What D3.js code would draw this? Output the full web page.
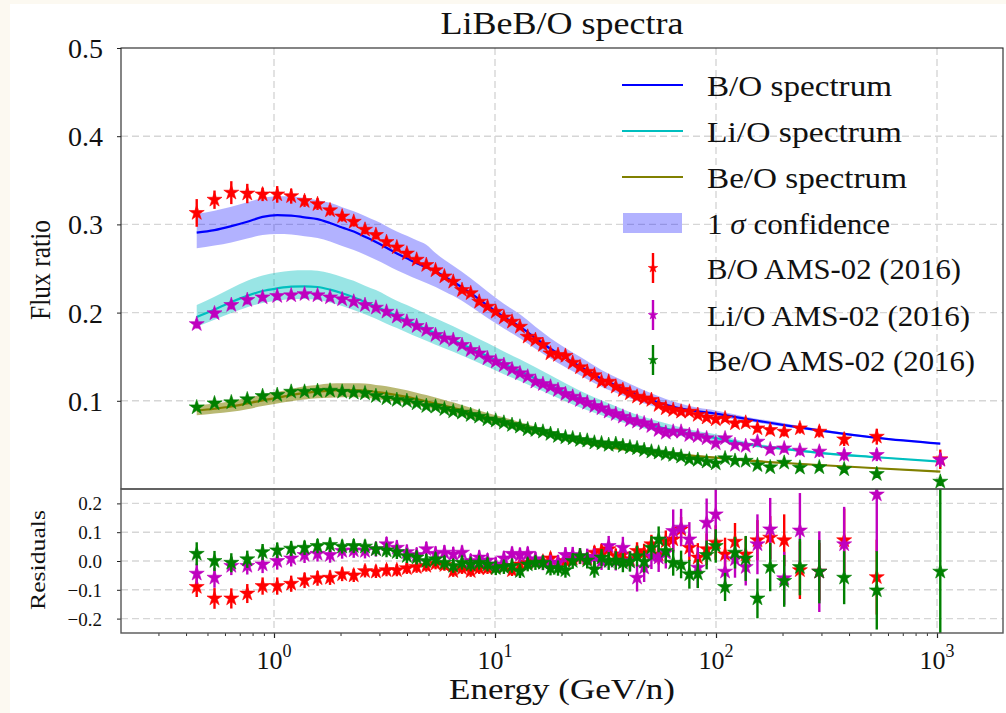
<!DOCTYPE html>
<html><head><meta charset="utf-8">
<script src="https://cdn.jsdelivr.net/npm/d3@7"></script>
<style>
html,body{margin:0;padding:0;background:#fcf9f1;}
svg{display:block;}
text{font-family:"Liberation Serif","Times New Roman",serif;fill:#111;}
</style></head><body>
<svg id="chart" width="1006" height="713"></svg>
<script>
// ---------------- data ----------------
const energy = [0.447,0.538,0.641,0.757,0.888,1.034,1.196,1.375,1.574,1.793,
 2.034,2.295,2.581,2.892,3.230,3.597,3.993,4.421,4.889,5.383,
 5.903,6.472,7.092,7.763,8.482,9.25,10.08,10.97,11.94,12.97,
 14.06,15.24,16.48,17.83,19.28,20.83,22.47,24.25,26.14,28.17,
 30.34,32.69,35.21,37.90,40.80,43.93,47.30,51.02,55.02,59.28,
 64.02,69.51,75.76,82.74,90.72,99.71,109.9,121.9,136.3,154.0,
 175.9,203.5,239.7,293.4,380.1,533.9,1034.7];

const boData = [0.313,0.328,0.336,0.335,0.334,0.334,0.332,0.3265,0.323,0.316,
 0.309,0.303,0.294,0.288,0.280,0.274,0.267,0.260,0.254,0.248,
 0.241,0.235,0.2256,0.222,0.2124,0.2067,0.201,0.1946,0.1897,0.184,
 0.1727,0.169,0.1633,0.1538,0.152,0.151,0.1432,0.138,0.133,0.129,
 0.1217,0.1217,0.116,0.1122,0.1085,0.1047,0.1028,0.101,0.0952,0.0915,
 0.0896,0.0877,0.0877,0.084,0.081,0.079,0.0801,0.0745,0.0752,0.0688,
 0.0669,0.065,0.0688,0.065,0.0563,0.0593,0.0337];
const liData = [0.187,0.1992,0.2086,0.2143,0.2173,0.2188,0.2196,0.221,0.2196,0.2173,
 0.2151,0.2124,0.2086,0.2056,0.201,0.1954,0.1897,0.1848,0.1803,0.1746,
 0.1708,0.169,0.1633,0.1576,0.1538,0.1482,0.1444,0.1406,0.1357,0.1312,
 0.1274,0.1217,0.119,0.116,0.1122,0.1077,0.1047,0.1009,0.0978,0.0941,
 0.0915,0.0877,0.085,0.082,0.0782,0.0763,0.0745,0.0714,0.0669,0.0638,
 0.065,0.065,0.0612,0.06,0.0575,0.0518,0.0575,0.05,0.0488,0.0537,
 0.045,0.0461,0.0435,0.0424,0.0386,0.0386,0.033];
const beData = [0.0926,0.0971,0.0983,0.1017,0.1054,0.1066,0.1103,0.1103,0.1111,0.1115,
 0.1103,0.1092,0.1085,0.1054,0.1028,0.101,0.0998,0.0971,0.0941,0.0933,
 0.0905,0.088,0.0866,0.0839,0.082,0.079,0.0775,0.0752,0.0726,0.0707,
 0.0677,0.0669,0.065,0.0624,0.0601,0.0586,0.0575,0.0556,0.0548,0.0526,
 0.0518,0.05,0.051,0.0488,0.0473,0.0462,0.0442,0.0424,0.0412,0.0397,
 0.0386,0.0367,0.0337,0.033,0.031,0.029,0.0348,0.032,0.032,0.027,
 0.0246,0.0298,0.0242,0.0246,0.0224,0.017,0.0083];

const boErr = [0.0157,0.0104,0.013,0.011,0.0076,0.0094,0.0085,0.0066,0.0066,0.006,
 0.0058,0.0055,0.0052,0.005,0.0048,0.0046,0.0045,0.0043,0.0042,0.004,
 0.004,0.0038,0.0037,0.0036,0.0035,0.0034,0.0033,0.0032,0.0031,0.003,
 0.003,0.003,0.003,0.003,0.003,0.003,0.003,0.003,0.003,0.003,
 0.003,0.003,0.003,0.003,0.003,0.003,0.003,0.003,0.003,0.003,
 0.003,0.003,0.0032,0.0034,0.0036,0.0038,0.004,0.0042,0.0045,0.0048,
 0.005,0.0055,0.006,0.0065,0.0075,0.009,0.011];
const liErr = [0.005,0.005,0.005,0.005,0.0045,0.0045,0.0045,0.0045,0.0045,0.0045,
 0.004,0.004,0.004,0.004,0.004,0.004,0.004,0.004,0.004,0.004,
 0.0035,0.0035,0.0035,0.0035,0.0035,0.0035,0.003,0.003,0.003,0.003,
 0.003,0.003,0.003,0.003,0.003,0.003,0.003,0.003,0.003,0.003,
 0.003,0.003,0.003,0.003,0.003,0.003,0.003,0.003,0.003,0.003,
 0.003,0.003,0.003,0.003,0.0032,0.0034,0.0036,0.0038,0.004,0.0042,
 0.0045,0.005,0.0055,0.006,0.0065,0.007,0.008];
const beErr = [0.003,0.003,0.003,0.003,0.003,0.003,0.003,0.003,0.003,0.003,
 0.0025,0.0025,0.0025,0.0025,0.0025,0.0025,0.0025,0.0025,0.0025,0.0025,
 0.002,0.002,0.002,0.002,0.002,0.002,0.002,0.002,0.002,0.002,
 0.002,0.002,0.002,0.002,0.002,0.002,0.002,0.002,0.002,0.002,
 0.002,0.002,0.002,0.002,0.002,0.002,0.002,0.002,0.002,0.002,
 0.002,0.002,0.002,0.002,0.002,0.0022,0.0024,0.0026,0.0028,0.003,
 0.0032,0.0034,0.0036,0.0038,0.004,0.0045,0.005];

// model curves (evaluated at modelEnergy)
const modelEnergy = [0.447,0.538,0.641,0.757,0.888,1.034,1.196,1.375,1.574,1.793,
 2.034,2.295,2.581,2.892,3.230,3.597,3.993,4.421,4.889,5.383,
 5.903,6.472,7.763,9.25,10.97,12.97,15.24,17.83,20.83,24.25,
 30.34,37.9,47.3,59.28,75.76,99.71,136.3,203.5,293.4,533.9,1034.7];
const boModel = [0.2906,0.2935,0.298,0.303,0.3085,0.3105,0.310,0.308,0.306,0.3015,
 0.2965,0.292,0.286,0.280,0.2735,0.267,0.2615,0.256,0.2515,0.247,
 0.241,0.235,0.222,0.208,0.195,0.184,0.171,0.159,0.149,0.139,
 0.125,0.114,0.104,0.0955,0.0895,0.0855,0.0795,0.0725,0.0665,0.058,0.0515];
const boLow = [0.273,0.276,0.2795,0.284,0.288,0.289,0.2885,0.2865,0.2845,0.2805,
 0.2755,0.271,0.2655,0.260,0.254,0.248,0.243,0.238,0.2335,0.229,
 0.224,0.219,0.207,0.194,0.182,0.171,0.159,0.148,0.138,0.129,
 0.116,0.106,0.097,0.090,0.085,0.082,0.077,0.0705,0.065,0.057,0.0505];
const boHigh = [0.312,0.3155,0.320,0.325,0.330,0.332,0.3315,0.330,0.3275,0.3245,
 0.3195,0.315,0.3095,0.304,0.298,0.292,0.287,0.282,0.277,0.2675,
 0.260,0.253,0.239,0.224,0.210,0.198,0.184,0.171,0.160,0.150,
 0.135,0.123,0.112,0.102,0.094,0.089,0.082,0.0745,0.068,0.059,0.0525];
const liModel = [0.195,0.2035,0.212,0.219,0.2245,0.2275,0.2295,0.2298,0.229,0.226,
 0.222,0.2175,0.212,0.207,0.2015,0.196,0.191,0.186,0.181,0.1765,
 0.1725,0.1685,0.1595,0.1505,0.1415,0.1335,0.125,0.117,0.109,0.1015,
 0.0915,0.0825,0.0745,0.0685,0.0625,0.0578,0.051,0.0455,0.041,0.036,0.031];
const liLow = [0.184,0.192,0.1995,0.206,0.211,0.2135,0.2155,0.2155,0.2145,0.2115,
 0.2075,0.203,0.198,0.193,0.1875,0.1825,0.1775,0.1725,0.168,0.1635,
 0.1595,0.1555,0.147,0.1385,0.13,0.1225,0.1145,0.107,0.0995,0.0925,
 0.0835,0.0755,0.0685,0.063,0.0585,0.0545,0.049,0.0438,0.0398,0.0352,0.0305];
const liHigh = [0.2086,0.218,0.2275,0.236,0.242,0.2455,0.2475,0.248,0.2475,0.2445,
 0.2405,0.236,0.2305,0.2255,0.2195,0.2135,0.2085,0.2035,0.1985,0.1935,
 0.189,0.1845,0.175,0.1655,0.156,0.147,0.138,0.129,0.12,0.1115,
 0.1005,0.0905,0.0815,0.0745,0.0675,0.062,0.0535,0.047,0.0422,0.0368,0.0315];
const beModel = [0.0888,0.091,0.0935,0.097,0.1005,0.1035,0.1065,0.109,0.1105,0.1115,
 0.112,0.112,0.1115,0.110,0.1085,0.1065,0.1045,0.102,0.0995,0.097,
 0.0945,0.092,0.0865,0.081,0.0765,0.0715,0.067,0.0625,0.0585,0.0545,
 0.0495,0.0455,0.0425,0.040,0.038,0.0355,0.0325,0.0295,0.0272,0.0235,0.0196];
const beLow = [0.0835,0.0855,0.0875,0.0905,0.094,0.097,0.0995,0.1015,0.103,0.1035,
 0.104,0.104,0.1035,0.102,0.1005,0.0988,0.097,0.0948,0.0925,0.0903,
 0.088,0.0857,0.0808,0.0758,0.0717,0.0672,0.063,0.059,0.0553,0.0516,
 0.0471,0.0434,0.0407,0.0384,0.0366,0.0343,0.0316,0.0288,0.0266,0.023,0.0192];
const beHigh = [0.0945,0.0968,0.0995,0.1035,0.107,0.11,0.1135,0.1165,0.118,0.1195,
 0.12,0.12,0.1195,0.118,0.1165,0.1142,0.112,0.1092,0.1065,0.1037,
 0.101,0.0983,0.0922,0.0862,0.0813,0.0758,0.071,0.066,0.0617,0.0574,
 0.0519,0.0476,0.0443,0.0416,0.0394,0.0367,0.0334,0.0302,0.0278,0.024,0.02];

// residuals (null = outside the plotted range)
const boRes = [-0.090,-0.130,-0.130,-0.113,-0.087,-0.087,-0.079,-0.067,-0.060,-0.058,
 -0.046,-0.050,-0.035,-0.037,-0.032,-0.032,-0.025,-0.021,-0.017,-0.009,
 -0.014,-0.035,-0.025,-0.035,-0.025,-0.025,-0.021,-0.017,-0.032,-0.012,
 -0.006,0.0,-0.002,0.009,-0.006,0.0,0.009,0.014,0.009,0.029,
 0.035,0.041,0.017,0.023,0.006,0.035,0.029,0.058,0.023,0.069,
 0.075,0.110,0.046,0.012,0.041,0.064,0.023,0.067,0.023,0.072,
 0.081,0.072,-0.032,-0.037,0.072,-0.056,null];
const liRes = [-0.044,-0.058,-0.017,-0.017,-0.012,0.0,0.009,0.021,0.025,0.021,
 0.035,0.037,0.035,0.041,0.058,0.046,0.031,0.021,0.041,0.025,
 0.029,0.023,0.029,0.0,0.012,0.002,-0.012,0.009,0.025,0.021,
 0.025,0.006,-0.006,-0.006,-0.006,0.021,0.021,0.017,0.014,0.014,
 0.0,0.052,0.0,0.046,0.0,-0.058,-0.023,0.017,0.012,0.029,
 0.104,0.116,0.075,-0.023,0.133,0.162,-0.037,0.006,-0.021,0.058,
 0.110,-0.060,0.106,-0.037,0.058,0.231,null];
const beRes = [0.025,0.0,-0.006,0.006,0.031,0.037,0.043,0.046,0.052,0.056,
 0.050,0.052,0.050,0.041,0.037,0.031,0.017,0.012,0.0,0.006,
 -0.006,-0.017,-0.006,-0.012,-0.006,-0.012,-0.025,-0.021,-0.017,-0.035,
 -0.012,-0.006,-0.006,-0.025,-0.025,-0.032,0.0,0.017,0.002,-0.029,
 0.012,0.0,0.002,-0.006,-0.002,0.017,-0.002,0.046,0.075,0.035,
 -0.006,-0.012,-0.046,-0.044,0.021,0.052,-0.090,0.029,0.009,-0.130,
 -0.021,-0.069,-0.021,-0.037,-0.058,-0.102,-0.037];
const boResErr = [0.035,0.036,0.035,0.033,0.03,0.03,0.028,0.027,0.026,0.025,
 0.024,0.023,0.022,0.022,0.021,0.021,0.02,0.02,0.02,0.02,
 0.02,0.02,0.02,0.02,0.02,0.02,0.02,0.02,0.02,0.02,
 0.02,0.02,0.021,0.021,0.022,0.022,0.022,0.023,0.023,0.024,
 0.025,0.025,0.026,0.027,0.028,0.03,0.031,0.033,0.035,0.037,
 0.04,0.043,0.046,0.05,0.055,0.06,0.058,0.065,0.062,0.07,
 0.075,0.09,0.1,0.1,0.11,0.13,0.2];
const liResErr = [0.035,0.035,0.032,0.03,0.03,0.03,0.028,0.028,0.027,0.027,
 0.027,0.026,0.026,0.026,0.026,0.026,0.026,0.026,0.026,0.026,
 0.026,0.026,0.025,0.025,0.025,0.025,0.025,0.025,0.025,0.025,
 0.025,0.026,0.026,0.026,0.027,0.027,0.028,0.028,0.029,0.03,
 0.031,0.035,0.033,0.038,0.035,0.048,0.05,0.045,0.05,0.055,
 0.075,0.065,0.06,0.07,0.084,0.087,0.06,0.064,0.064,0.104,
 0.109,0.092,0.13,0.14,0.13,0.2,0.3];
const beResErr = [0.04,0.035,0.033,0.03,0.028,0.027,0.026,0.025,0.025,0.025,
 0.024,0.024,0.024,0.024,0.024,0.024,0.024,0.024,0.024,0.024,
 0.024,0.024,0.024,0.024,0.024,0.024,0.024,0.024,0.024,0.024,
 0.024,0.025,0.025,0.025,0.026,0.026,0.027,0.027,0.028,0.029,
 0.03,0.031,0.032,0.033,0.035,0.036,0.038,0.04,0.045,0.043,
 0.045,0.048,0.05,0.05,0.05,0.058,0.049,0.055,0.078,0.069,
 0.084,0.09,0.098,0.11,0.092,0.136,0.3];

const xMajorTicks = [1, 10, 100, 1000];
const xMajorExponents = ["0", "1", "2", "3"];
const yTopTicks = [0.1, 0.2, 0.3, 0.4, 0.5];
const yResTicks = [-0.2, -0.1, 0.0, 0.1, 0.2];
const lineLabels = ["B/O spectrum", "Li/O spectrum", "Be/O spectrum"];
const bandLabel = "confidence";
const dataLabels = ["B/O AMS-02 (2016)", "Li/O AMS-02 (2016)", "Be/O AMS-02 (2016)"];
const titleText = "LiBeB/O spectra";

// ---------------- layout ----------------
const X0 = 121, X1 = 1003, YT0 = 48, YT1 = 489, YR1 = 633;
const svg = d3.select("#chart");
svg.append("rect").attr("x", 10).attr("y", 4).attr("width", 996).attr("height", 709).attr("fill", "#fff");

const x = d3.scaleLog().domain([0.2031, 1989]).range([X0, X1]);
const yT = d3.scaleLinear().domain([0, 0.5]).range([YT1, YT0]);
const yR = d3.scaleLinear().domain([-0.25, 0.25]).range([YR1, YT1]);

const defs = svg.append("defs");
defs.append("clipPath").attr("id", "clipTop").append("rect")
  .attr("x", X0).attr("y", YT0).attr("width", X1 - X0).attr("height", YT1 - YT0);
defs.append("clipPath").attr("id", "clipRes").append("rect")
  .attr("x", X0).attr("y", YT1).attr("width", X1 - X0).attr("height", YR1 - YT1);

const gridColor = "#d6d6d6";
function grid(g, yScale, yVals, y0, y1) {
  g.selectAll(".vg").data(xMajorTicks).join("line")
    .attr("x1", d => x(d)).attr("x2", d => x(d)).attr("y1", y0).attr("y2", y1)
    .attr("stroke", gridColor).attr("stroke-width", 1.4).attr("stroke-dasharray", "7,4");
  g.selectAll(".hg").data(yVals).join("line")
    .attr("x1", X0).attr("x2", X1).attr("y1", d => yScale(d)).attr("y2", d => yScale(d))
    .attr("stroke", gridColor).attr("stroke-width", 1.4).attr("stroke-dasharray", "7,4");
}
grid(svg.append("g"), yT, yTopTicks.slice(0, 4), YT0, YT1);
grid(svg.append("g"), yR, yResTicks, YT1, YR1);

// ---------------- top panel ----------------
const topG = svg.append("g").attr("clip-path", "url(#clipTop)");
const colors = {
  bo: {line: "#0000ff", band: "#0000ff", bandOp: 0.3, data: "#ff0000"},
  li: {line: "#00bfbf", band: "#00bfbf", bandOp: 0.4, data: "#bf00bf"},
  be: {line: "#808000", band: "#808000", bandOp: 0.55, data: "#008000"}
};
const models = [
  {key: "bo", m: boModel, lo: boLow, hi: boHigh},
  {key: "li", m: liModel, lo: liLow, hi: liHigh},
  {key: "be", m: beModel, lo: beLow, hi: beHigh}
];
const area = d3.area().curve(d3.curveMonotoneX)
  .x(d => x(d.e)).y0(d => yT(d.lo)).y1(d => yT(d.hi));
const line = d3.line().curve(d3.curveMonotoneX).x(d => x(d.e)).y(d => yT(d.v));
models.forEach(md => {
  const pts = modelEnergy.map((e, i) => ({e, v: md.m[i], lo: md.lo[i], hi: md.hi[i]}));
  topG.append("path").datum(pts).attr("d", area)
    .attr("fill", colors[md.key].band).attr("fill-opacity", colors[md.key].bandOp).attr("stroke", "none");
});
models.forEach(md => {
  const pts = modelEnergy.map((e, i) => ({e, v: md.m[i]}));
  topG.append("path").datum(pts).attr("d", line)
    .attr("fill", "none").attr("stroke", colors[md.key].line).attr("stroke-width", 2.2);
});

const star = d3.symbol().type(d3.symbolStar).size(70);
function drawData(g, yScale, vals, errs, color) {
  const pts = energy.map((e, i) => ({e, v: vals[i], err: errs[i]})).filter(d => d.v !== null);
  g.append("g").selectAll("line").data(pts).join("line")
    .attr("x1", d => x(d.e)).attr("x2", d => x(d.e))
    .attr("y1", d => yScale(d.v - d.err)).attr("y2", d => yScale(d.v + d.err))
    .attr("stroke", color).attr("stroke-width", 2.4);
  g.append("g").selectAll("path").data(pts).join("path")
    .attr("d", star)
    .attr("transform", d => `translate(${x(d.e)},${yScale(d.v)})`)
    .attr("fill", color).attr("stroke", color).attr("stroke-width", 0.6);
}
drawData(topG, yT, boData, boErr, colors.bo.data);
drawData(topG, yT, liData, liErr, colors.li.data);
drawData(topG, yT, beData, beErr, colors.be.data);

// ---------------- residual panel ----------------
const resG = svg.append("g").attr("clip-path", "url(#clipRes)");
drawData(resG, yR, boRes, boResErr, colors.bo.data);
drawData(resG, yR, liRes, liResErr, colors.li.data);
drawData(resG, yR, beRes, beResErr, colors.be.data);

// ---------------- axes ----------------
const axTop = svg.append("g").attr("transform", `translate(${X0},0)`)
  .call(d3.axisLeft(yT).tickValues(yTopTicks).tickFormat(d3.format(".1f")).tickSize(4).tickPadding(14));
axTop.select(".domain").remove();
axTop.selectAll("text").attr("font-size", 28).attr("dy", "0.34em")
  .style("font-family", '"Liberation Serif",serif').attr("fill", "#111");
axTop.selectAll("line").attr("stroke", "#222");

const axRes = svg.append("g").attr("transform", `translate(${X0},0)`)
  .call(d3.axisLeft(yR).tickValues(yResTicks).tickFormat(d3.format(".1f")).tickSize(4).tickPadding(15));
axRes.select(".domain").remove();
axRes.selectAll("text").attr("font-size", 19).attr("dy", "0.34em")
  .style("font-family", '"Liberation Serif",serif').attr("fill", "#222");
axRes.selectAll("line").attr("stroke", "#222");

const minorTicks = x.ticks().filter(v => !xMajorTicks.includes(v));
const axX = svg.append("g").attr("transform", `translate(0,${YR1})`)
  .call(d3.axisBottom(x).tickValues(minorTicks).tickFormat("").tickSize(3));
axX.select(".domain").remove();
axX.selectAll("line").attr("stroke", "#333");
const axXM = svg.append("g").attr("transform", `translate(0,${YR1})`)
  .call(d3.axisBottom(x).tickValues(xMajorTicks).tickFormat("").tickSize(5));
axXM.select(".domain").remove();
axXM.selectAll("line").attr("stroke", "#222").attr("stroke-width", 1.2);
const xl = svg.append("g").selectAll("text").data(xMajorTicks).join("text")
  .attr("x", d => x(d)).attr("y", 669).attr("text-anchor", "middle");
xl.append("tspan").attr("font-size", 26).text("10");
xl.append("tspan").attr("font-size", 18).attr("dy", -12).text((d, i) => xMajorExponents[i]);

// spines
svg.append("rect").attr("x", X0).attr("y", YT0).attr("width", X1 - X0).attr("height", YT1 - YT0)
  .attr("fill", "none").attr("stroke", "#222").attr("stroke-width", 1.1);
svg.append("rect").attr("x", X0).attr("y", YT1).attr("width", X1 - X0).attr("height", YR1 - YT1)
  .attr("fill", "none").attr("stroke", "#555").attr("stroke-width", 1.4);

// ---------------- labels ----------------
svg.append("text").attr("x", (X0 + X1) / 2).attr("y", 34).attr("text-anchor", "middle")
  .attr("font-size", 32).attr("textLength", 243).attr("lengthAdjust", "spacingAndGlyphs").text(titleText);
svg.append("text").attr("x", (X0 + X1) / 2).attr("y", 699).attr("text-anchor", "middle")
  .attr("font-size", 29).attr("textLength", 226).attr("lengthAdjust", "spacingAndGlyphs").text("Energy (GeV/n)");
svg.append("text").attr("transform", "translate(50,270) rotate(-90)").attr("text-anchor", "middle")
  .attr("font-size", 30).attr("textLength", 100).attr("lengthAdjust", "spacingAndGlyphs").text("Flux ratio");
svg.append("text").attr("transform", "translate(45,560) rotate(-90)").attr("text-anchor", "middle")
  .attr("font-size", 22).attr("textLength", 100).attr("lengthAdjust", "spacingAndGlyphs").text("Residuals");

// ---------------- legend ----------------
const LX1 = 622, LX2 = 683, LTX = 707, LMX = 653;
const rowY = [85, 131, 177, 223, 268, 315, 360];
const lineLens = [185, 195, 200];
const dataLens = [254, 263, 268];
const lg = svg.append("g");
["bo", "li", "be"].forEach((k, i) => {
  lg.append("line").attr("x1", LX1).attr("x2", LX2).attr("y1", rowY[i]).attr("y2", rowY[i])
    .attr("stroke", colors[k].line).attr("stroke-width", 2.2);
  lg.append("text").attr("x", LTX).attr("y", rowY[i] + 11).attr("font-size", 30)
    .attr("textLength", lineLens[i]).attr("lengthAdjust", "spacingAndGlyphs").text(lineLabels[i]);
});
lg.append("rect").attr("x", LX1 + 1).attr("y", rowY[3] - 10).attr("width", LX2 - LX1 - 2).attr("height", 20)
  .attr("fill", "#0000ff").attr("fill-opacity", 0.3);
const bt = lg.append("text").attr("x", LTX).attr("y", rowY[3] + 11).attr("font-size", 30)
  .attr("textLength", 183).attr("lengthAdjust", "spacingAndGlyphs");
bt.append("tspan").text("1 ");
bt.append("tspan").attr("font-style", "italic").text("σ");
bt.append("tspan").text(" " + bandLabel);
const smallStar = d3.symbol().type(d3.symbolStar).size(28);
["bo", "li", "be"].forEach((k, i) => {
  const cy = rowY[4 + i];
  lg.append("line").attr("x1", LMX).attr("x2", LMX).attr("y1", cy - 15).attr("y2", cy + 15)
    .attr("stroke", colors[k].data).attr("stroke-width", 2.4);
  lg.append("path").attr("d", smallStar).attr("transform", `translate(${LMX},${cy})`)
    .attr("fill", colors[k].data).attr("stroke", colors[k].data).attr("stroke-width", 0.6);
  lg.append("text").attr("x", LTX).attr("y", cy + 11).attr("font-size", 30)
    .attr("textLength", dataLens[i]).attr("lengthAdjust", "spacingAndGlyphs").text(dataLabels[i]);
});
</script>
</body></html>
